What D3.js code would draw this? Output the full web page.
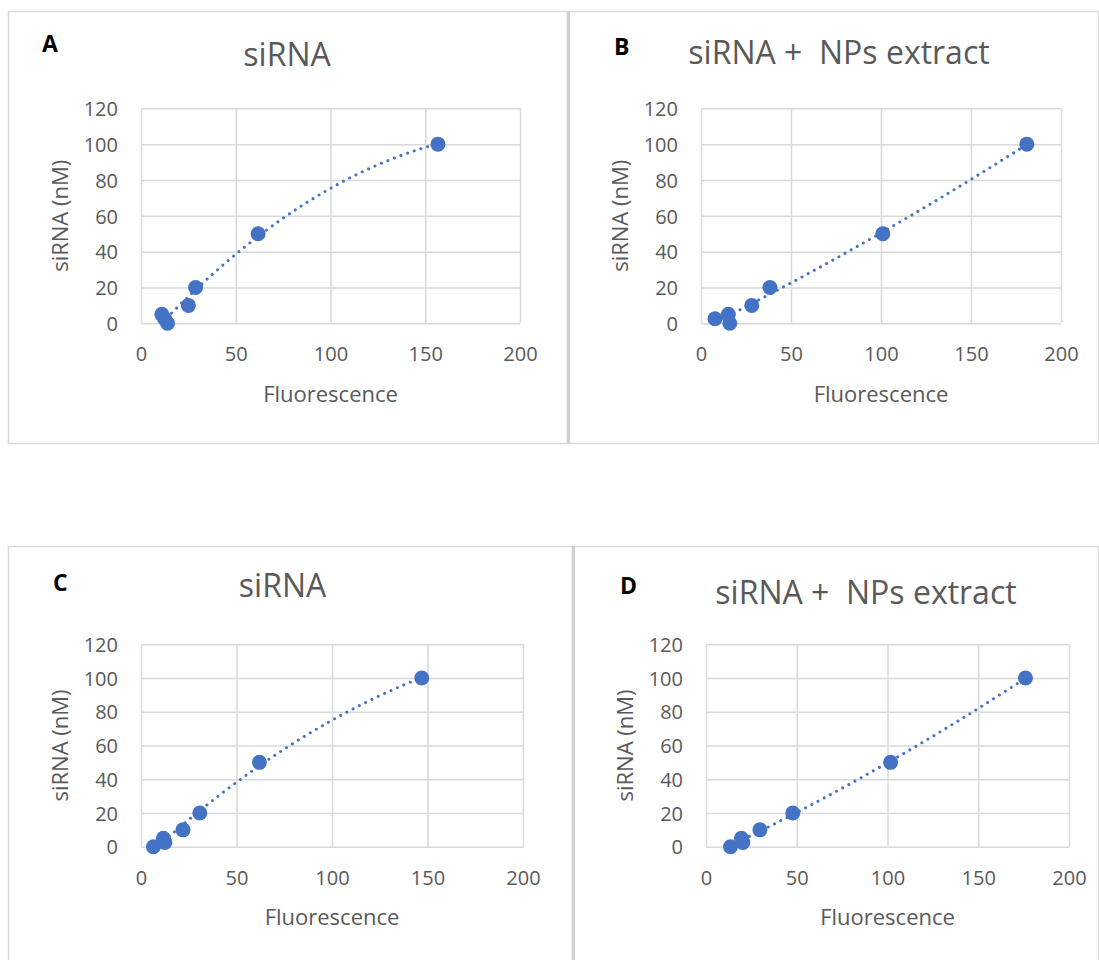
<!DOCTYPE html>
<html>
<head>
<meta charset="utf-8">
<script src="https://cdn.jsdelivr.net/npm/d3@7"></script>
<style>
body { margin: 0; background: #fff; }
text { font-family: "Open Sans", sans-serif; }
</style>
</head>
<body>
<svg id="chart" width="1099" height="960"></svg>
<script>

// siRNA standards (nM) and fluorescence read for each panel
var concentrations = [0, 2.5, 5, 10, 20, 50, 100];
var fluorA = [14, 12.5, 11, 25, 28.8, 61.8, 156.7];
var fluorB = [16, 7.8, 15.2, 28.2, 38.3, 101, 181];
var fluorC = [6.5, 12.5, 11.7, 22, 30.8, 62, 147];
var fluorD = [13.5, 20.3, 19.5, 29.7, 47.8, 101.7, 176];

var xTicks = [0, 50, 100, 150, 200];
var yTicks = [0, 20, 40, 60, 80, 100, 120];

var letters = ['A', 'B', 'C', 'D'];
var titles = ['siRNA', 'siRNA +  NPs extract', 'siRNA', 'siRNA +  NPs extract'];
var xLabel = 'Fluorescence';
var yLabel = 'siRNA (nM)';

var blue = '#4472c4';
var grey = '#595959';
var grid = '#d9d9d9';

var svg = d3.select('#chart');

// layout of the four chart boxes (pixels)
var panels = [
	{ fl: fluorA, box: [8, 11, 559, 432], thick: false, px: [141, 520], py: [323.3, 108.3], lx: 42, ly: 52, tx: 287, ty: 66, xt: 402 },
	{ fl: fluorB, box: [567, 11, 531, 432], thick: true, px: [701, 1061], py: [323.3, 108.3], lx: 614, ly: 55, tx: 839, ty: 64, xt: 402 },
	{ fl: fluorC, box: [8, 546, 564, 430], thick: false, px: [141, 523], py: [846.7, 644.3], lx: 53, ly: 591, tx: 282.5, ty: 597, xt: 925 },
	{ fl: fluorD, box: [572, 546, 526, 430], thick: true, px: [706, 1069], py: [846.7, 644.3], lx: 620, ly: 594, tx: 866, ty: 604, xt: 925 }
];

// least squares y = a + b x + c x^2 (excel polynomial trendline)
function polyFit(xs, ys) {
	var s = [0, 0, 0, 0, 0], t = [0, 0, 0];
	xs.forEach(function(x, i) {
		for (var k = 0; k < 5; k++) s[k] += Math.pow(x, k);
		for (var k = 0; k < 3; k++) t[k] += ys[i] * Math.pow(x, k);
	});
	var m = [[s[0], s[1], s[2], t[0]], [s[1], s[2], s[3], t[1]], [s[2], s[3], s[4], t[2]]];
	for (var i = 0; i < 3; i++) {
		for (var j = i + 1; j < 3; j++) {
			var f = m[j][i] / m[i][i];
			for (var k = i; k < 4; k++) m[j][k] -= f * m[i][k];
		}
	}
	var c = [0, 0, 0];
	for (var i = 2; i >= 0; i--) {
		var v = m[i][3];
		for (var k = i + 1; k < 3; k++) v -= m[i][k] * c[k];
		c[i] = v / m[i][i];
	}
	return c;
}

function drawPanel(p, i) {

	var b = p.box;

	// outer frame
	svg.append('rect')
		.attr('x', b[0] + 0.5)
		.attr('y', b[1] + 0.5)
		.attr('width', b[2])
		.attr('height', b[3])
		.style('fill', 'none')
		.attr('stroke', grid)
		.attr('stroke-width', 1.5);

	if (p.thick) {
		svg.append('line')
			.attr('x1', b[0] + 1.5)
			.attr('y1', b[1])
			.attr('x2', b[0] + 1.5)
			.attr('y2', b[1] + b[3])
			.attr('stroke', '#d0d0d0')
			.attr('stroke-width', 3);
	}

	var x = d3.scaleLinear().domain([0, 200]).range(p.px);
	var y = d3.scaleLinear().domain([0, 120]).range(p.py);
	var w = p.px[1] - p.px[0];
	var h = p.py[0] - p.py[1];

	var g = svg.append('g');

	// x gridlines + tick labels
	g.append('g')
		.attr('transform', 'translate(0,' + p.py[0] + ')')
		.call(d3.axisBottom(x).tickValues(xTicks).tickSize(-h).tickPadding(24))
		.call(function(a) {
			a.select('.domain').remove();
			a.selectAll('line').attr('stroke', grid).attr('stroke-width', 1.5);
			a.selectAll('text').style('font-size', '20px').style('fill', grey).attr('font-family', null);
		});

	// y gridlines + tick labels
	g.append('g')
		.attr('transform', 'translate(' + p.px[0] + ',0)')
		.call(d3.axisLeft(y).tickValues(yTicks).tickSize(-w).tickPadding(23))
		.call(function(a) {
			a.select('.domain').remove();
			a.selectAll('line').attr('stroke', grid).attr('stroke-width', 1.5);
			a.selectAll('text').style('font-size', '20px').style('fill', grey).attr('font-family', null).attr('dy', '0.36em');
		});

	// points
	var pts = p.fl.map(function(f, k) { return [f, concentrations[k]]; });

	g.selectAll('circle.pt')
		.data(pts)
		.enter().append('circle')
		.attr('class', 'pt')
		.attr('cx', function(d) { return x(d[0]); })
		.attr('cy', function(d) { return y(d[1]); })
		.attr('r', 7.5)
		.style('fill', blue);

	// dotted trendline
	var c = polyFit(p.fl, concentrations);
	var lo = d3.min(p.fl), hi = d3.max(p.fl);
	var curve = d3.range(0, 101).map(function(k) {
		var fx = lo + (hi - lo) * k / 100;
		return [fx, c[0] + c[1] * fx + c[2] * fx * fx];
	});

	g.append('path')
		.datum(curve)
		.attr('d', d3.line().x(function(d) { return x(d[0]); }).y(function(d) { return y(d[1]); }))
		.style('fill', 'none')
		.attr('stroke', blue)
		.attr('stroke-width', 3)
		.attr('stroke-linecap', 'round')
		.style('stroke-dasharray', '0.01,7');

	// panel letter
	svg.append('text')
		.attr('x', p.lx)
		.attr('y', p.ly)
		.text(letters[i])
		.style('font-size', '23px')
		.style('font-weight', 700)
		.style('fill', '#000');

	// title
	svg.append('text')
		.attr('x', p.tx)
		.attr('y', p.ty)
		.attr('text-anchor', 'middle')
		.attr('xml:space', 'preserve')
		.style('white-space', 'pre')
		.text(titles[i])
		.style('font-size', '32px')
		.style('fill', grey);

	// axis titles
	svg.append('text')
		.attr('x', (p.px[0] + p.px[1]) / 2)
		.attr('y', p.xt)
		.attr('text-anchor', 'middle')
		.text(xLabel)
		.style('font-size', '22px')
		.style('fill', grey);

	svg.append('text')
		.attr('transform', 'translate(' + (p.px[0] - 73) + ',' + ((p.py[0] + p.py[1]) / 2) + ') rotate(-90)')
		.attr('text-anchor', 'middle')
		.text(yLabel)
		.style('font-size', '22px')
		.style('fill', grey);
}

panels.forEach(drawPanel);

</script>
</body>
</html>
